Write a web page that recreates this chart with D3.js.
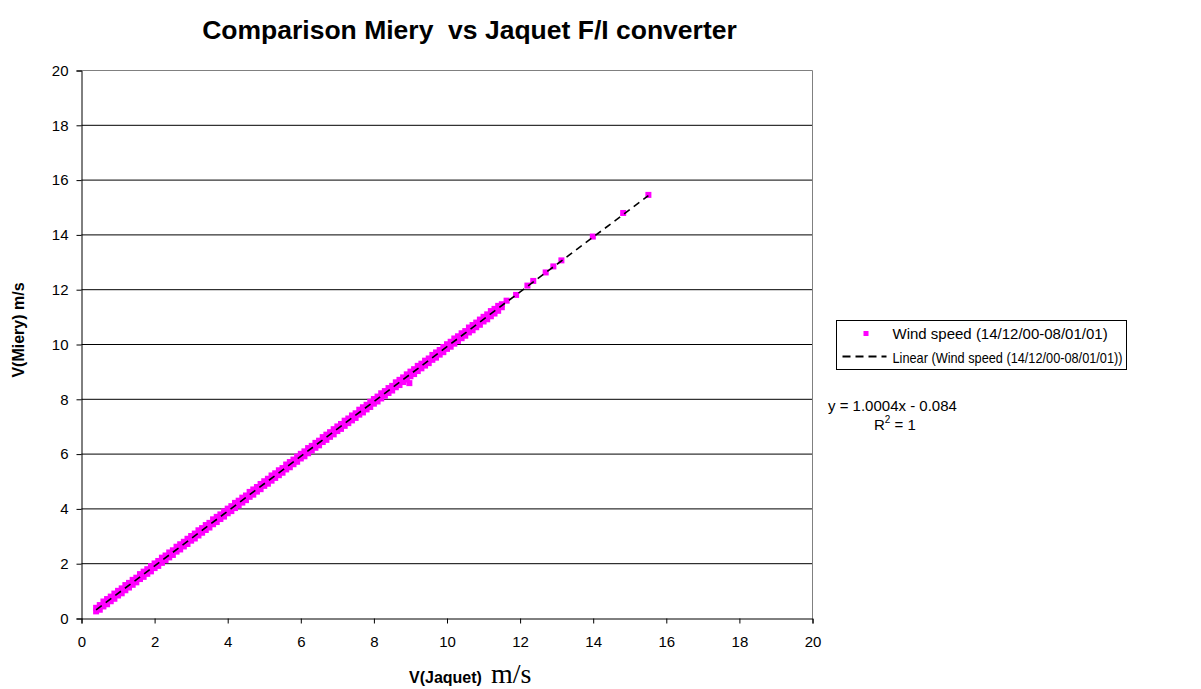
<!DOCTYPE html>
<html>
<head>
<meta charset="utf-8">
<script src="https://cdn.jsdelivr.net/npm/d3@7"></script>
<style>
  body { margin: 0; background: #fff; }
  text { font-family: "Liberation Sans", Arial, sans-serif; fill: #000; }
</style>
</head>
<body>
<svg id="chart" width="1201" height="689"></svg>
<script>
// tick values
var ticks = [0, 2, 4, 6, 8, 10, 12, 14, 16, 18, 20];

// dense measurements, V(Jaquet): each reading has an upper and lower V(Miery) value
var windX = [
	0.4, 0.5, 0.6, 0.7, 0.8, 0.9,
	1.0, 1.1, 1.2, 1.3, 1.4, 1.5, 1.6, 1.7, 1.8, 1.9,
	2.0, 2.1, 2.2, 2.3, 2.4, 2.5, 2.6, 2.7, 2.8, 2.9,
	3.0, 3.1, 3.2, 3.3, 3.4, 3.5, 3.6, 3.7, 3.8, 3.9,
	4.0, 4.1, 4.2, 4.3, 4.4, 4.5, 4.6, 4.7, 4.8, 4.9,
	5.0, 5.1, 5.2, 5.3, 5.4, 5.5, 5.6, 5.7, 5.8, 5.9,
	6.0, 6.1, 6.2, 6.3, 6.4, 6.5, 6.6, 6.7, 6.8, 6.9,
	7.0, 7.1, 7.2, 7.3, 7.4, 7.5, 7.6, 7.7, 7.8, 7.9,
	8.0, 8.1, 8.2, 8.3, 8.4, 8.5, 8.6, 8.7, 8.8, 8.9,
	9.0, 9.1, 9.2, 9.3, 9.4, 9.5, 9.6, 9.7, 9.8, 9.9,
	10.0, 10.1, 10.2, 10.3, 10.4, 10.5, 10.6, 10.7, 10.8, 10.9,
	11.0, 11.1, 11.2, 11.3, 11.4, 11.5
];
var windYHigh = [
	0.39, 0.49, 0.62, 0.71, 0.80, 0.91,
	1.01, 1.10, 1.22, 1.30, 1.41, 1.49, 1.62, 1.71, 1.80, 1.91,
	2.01, 2.10, 2.22, 2.30, 2.41, 2.49, 2.62, 2.71, 2.80, 2.91,
	3.01, 3.10, 3.22, 3.30, 3.41, 3.49, 3.62, 3.71, 3.80, 3.91,
	4.01, 4.10, 4.22, 4.30, 4.41, 4.49, 4.62, 4.71, 4.80, 4.91,
	5.01, 5.10, 5.22, 5.30, 5.41, 5.49, 5.62, 5.71, 5.80, 5.91,
	6.01, 6.10, 6.22, 6.30, 6.41, 6.49, 6.62, 6.71, 6.80, 6.91,
	7.01, 7.10, 7.22, 7.30, 7.41, 7.49, 7.62, 7.71, 7.80, 7.91,
	8.01, 8.10, 8.22, 8.30, 8.41, 8.49, 8.62, 8.71, 8.80, 8.91,
	9.01, 9.10, 9.22, 9.30, 9.41, 9.49, 9.62, 9.71, 9.80, 9.91,
	10.01, 10.10, 10.22, 10.30, 10.41, 10.49, 10.62, 10.71, 10.80, 10.91,
	11.01, 11.10, 11.22, 11.30, 11.41, 11.47
];
var windYLow = [
	0.26, 0.32, 0.44, 0.52, 0.63, 0.72,
	0.84, 0.92, 1.03, 1.13, 1.23, 1.32, 1.44, 1.52, 1.63, 1.72,
	1.84, 1.92, 2.03, 2.13, 2.23, 2.32, 2.44, 2.52, 2.63, 2.72,
	2.84, 2.92, 3.03, 3.13, 3.23, 3.32, 3.44, 3.52, 3.63, 3.72,
	3.84, 3.92, 4.03, 4.13, 4.23, 4.32, 4.44, 4.52, 4.63, 4.72,
	4.84, 4.92, 5.03, 5.13, 5.23, 5.32, 5.44, 5.52, 5.63, 5.72,
	5.84, 5.92, 6.03, 6.13, 6.23, 6.32, 6.44, 6.52, 6.63, 6.72,
	6.84, 6.92, 7.03, 7.13, 7.23, 7.32, 7.44, 7.52, 7.63, 7.72,
	7.84, 7.92, 8.03, 8.13, 8.23, 8.32, 8.44, 8.52, 8.63, 8.72,
	8.84, 8.92, 9.03, 9.13, 9.23, 9.32, 9.44, 9.52, 9.63, 9.72,
	9.84, 9.92, 10.03, 10.13, 10.23, 10.32, 10.44, 10.52, 10.63, 10.72,
	10.84, 10.92, 11.03, 11.13, 11.23, 11.36
];

// sparse readings at high speed plus the one outlier
var extraX = [11.63, 11.89, 12.2, 12.36, 12.7, 12.91, 13.13, 13.99, 14.82, 15.51, 8.97];
var extraY = [11.6, 11.81, 12.15, 12.32, 12.63, 12.85, 13.07, 13.94, 14.80, 15.46, 8.59];

// linear trend: y = 1.0004x - 0.084
var trendX = [0.4, 15.51];
var trendY = [0.316, 15.432];

var legendLabels = ["Wind speed (14/12/00-08/01/01)", "Linear (Wind speed (14/12/00-08/01/01))"];

var margin = { top: 70.5, left: 81.5 },
	width = 731,
	height = 548;

var svg = d3.select("#chart");

var x = d3.scaleLinear().domain([0, 20]).range([0, width]);
var y = d3.scaleLinear().domain([0, 20]).range([height, 0]);

svg
	.append("text")
	.attr("x", 469.5)
	.attr("y", 39)
	.attr("text-anchor", "middle")
	.attr("font-size", 26.5)
	.attr("font-weight", "bold")
	.style("white-space", "pre")
	.text("Comparison Miery  vs Jaquet F/I converter");

var g = svg
	.append("g")
	.attr("transform", "translate(" + margin.left + "," + margin.top + ")");

// gridlines
g.selectAll(".grid")
	.data(ticks.slice(1, -1))
	.enter()
	.append("line")
	.attr("class", "grid")
	.attr("x1", 0)
	.attr("x2", width)
	.attr("y1", d => y(d))
	.attr("y2", d => y(d))
	.attr("stroke", "#000")
	.attr("stroke-width", 1);

// plot border top/right
g.append("path")
	.attr("d", "M0,0H" + width + "V" + height)
	.attr("fill", "none")
	.attr("stroke", "#808080")
	.attr("stroke-width", 1);

var xaxis = g
	.append("g")
	.attr("transform", "translate(0," + height + ")")
	.call(d3.axisBottom(x).tickValues(ticks).tickSizeOuter(0).tickSize(5).tickPadding(13));

var yaxis = g
	.append("g")
	.call(d3.axisLeft(y).tickValues(ticks).tickSizeOuter(0).tickSize(5).tickPadding(8));

g.selectAll(".tick text")
	.attr("font-size", 15)
	.attr("font-family", "Liberation Sans, Arial, sans-serif");
g.selectAll(".domain, .tick line").attr("stroke", "#000");

// points
var pts = [];
windX.forEach((d, i) => {
	pts.push([d, windYHigh[i]]);
	pts.push([d, windYLow[i]]);
});
extraX.forEach((d, i) => pts.push([d, extraY[i]]));

g.selectAll(".dot")
	.data(pts)
	.enter()
	.append("rect")
	.attr("class", "dot")
	.attr("x", d => x(d[0]) - 3)
	.attr("y", d => y(d[1]) - 3)
	.attr("width", 6)
	.attr("height", 6)
	.attr("fill", "#ff00ff");

// trend line
g.append("line")
	.attr("x1", x(trendX[0]))
	.attr("y1", y(trendY[0]))
	.attr("x2", x(trendX[1]))
	.attr("y2", y(trendY[1]))
	.attr("stroke", "#000")
	.attr("stroke-width", 1.6)
	.attr("stroke-dasharray", "7,5");

// axis titles
svg
	.append("text")
	.attr("transform", "translate(24,330) rotate(-90)")
	.attr("text-anchor", "middle")
	.attr("font-size", 16)
	.attr("font-weight", "bold")
	.text("V(Miery) m/s");

var xt = svg
	.append("text")
	.attr("x", 409)
	.attr("y", 683);
xt.append("tspan")
	.attr("font-size", 16)
	.attr("font-weight", "bold")
	.text("V(Jaquet)");
xt.append("tspan")
	.attr("x", 491)
	.attr("font-size", 28)
	.attr("font-family", "Liberation Serif, Times New Roman, serif")
	.text("m/s");

// legend
var legend = svg.append("g").attr("transform", "translate(836.5,320.5)");
legend
	.append("rect")
	.attr("width", 290)
	.attr("height", 49)
	.attr("fill", "#fff")
	.attr("stroke", "#000");
legend
	.append("rect")
	.attr("x", 27)
	.attr("y", 10.5)
	.attr("width", 5)
	.attr("height", 5)
	.attr("fill", "#ff00ff");
legend
	.append("line")
	.attr("x1", 6)
	.attr("x2", 50)
	.attr("y1", 36)
	.attr("y2", 36)
	.attr("stroke", "#000")
	.attr("stroke-width", 2)
	.attr("stroke-dasharray", "8,5");
legend
	.selectAll(".leg-text")
	.data(legendLabels)
	.enter()
	.append("text")
	.attr("class", "leg-text")
	.attr("x", 56)
	.attr("y", (d, i) => 18 + i * 24.5)
	.attr("font-size", (d, i) => (i === 1 ? 14.5 : 15))
	.attr("textLength", (d, i) => (i === 1 ? 230 : null))
	.attr("lengthAdjust", "spacingAndGlyphs")
	.text(d => d);

// equation
svg
	.append("text")
	.attr("x", 828)
	.attr("y", 411)
	.attr("font-size", 15)
	.text("y = 1.0004x - 0.084");
var r2 = svg
	.append("text")
	.attr("x", 874)
	.attr("y", 430)
	.attr("font-size", 15);
r2.append("tspan").text("R");
r2.append("tspan").attr("font-size", 10).attr("dy", -7).text("2");
r2.append("tspan").attr("dy", 7).text(" = 1");
</script>
</body>
</html>
